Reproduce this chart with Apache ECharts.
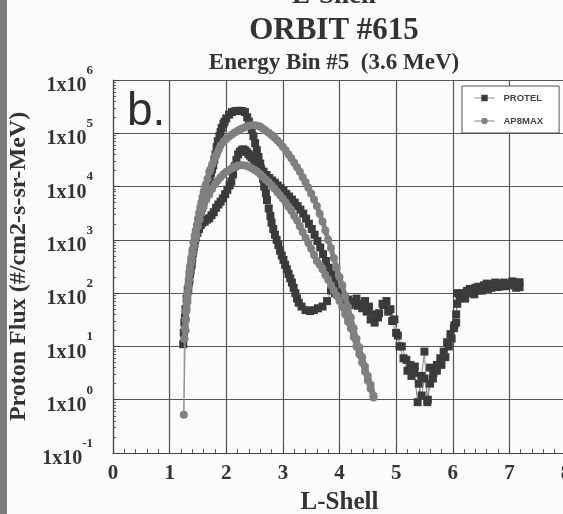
<!DOCTYPE html>
<html>
<head>
<meta charset="utf-8">
<script src="https://cdn.jsdelivr.net/npm/echarts@6/dist/echarts.min.js"></script>
<style>
html,body{margin:0;padding:0;background:#fcfcfc;}
#chart{width:563px;height:514px;}
</style>
</head>
<body>
<div id="chart"></div>
<script>
// ---- Data (L-Shell, proton flux) ----
var seriesNames = ['PROTEL', 'AP8MAX'];
var xTicks = [0, 1, 2, 3, 4, 5, 6, 7, 8];
var yTickExponents = [-1, 0, 1, 2, 3, 4, 5, 6];

// PROTEL, first pass (inbound, high L to low L)
var protelPass1 = [
 [7.18,160],[7.12,126],[7.05,166],[6.98,141],[6.9,158],[6.82,132],[6.75,158],[6.68,126],[6.6,151],[6.52,112],
 [6.45,132],[6.38,95],[6.3,120],[6.22,79],[6.15,89],[6.08,100],[6.06,40],[6.03,25],[5.98,14],[5.93,10],
 [5.87,6.3],[5.8,4.5],[5.72,3.5],[5.65,2.5],[5.6,4],[5.55,0.9],[5.5,8],[5.45,2.8],[5.38,0.9],[5.32,3.2],
 [5.25,4.5],[5.18,5.6],[5.1,10],[5.03,16],[4.97,32],[4.9,50],[4.83,71],[4.76,63],[4.68,35],[4.6,40],
 [4.52,56],[4.45,71],[4.38,63],[4.3,79],[4.22,66],[4.15,76],[4.07,71],[4.0,89],[3.92,100],[3.85,112],
 [3.78,71],[3.7,56],[3.62,52],[3.55,48],[3.48,46],[3.4,48],[3.33,56],[3.28,66],[3.25,79],[3.22,100],
 [3.19,126],[3.16,158],[3.13,190],[3.1,230],[3.07,280],[3.04,340],[3.01,420],[2.98,510],[2.95,630],[2.92,800],
 [2.89,1000],[2.86,1250],[2.83,1600],[2.8,2100],[2.78,2800],[2.75,3900],[2.72,5600],[2.7,7500],[2.67,10000],[2.65,14000],
 [2.62,20000],[2.6,27000],[2.57,36000],[2.54,48000],[2.51,65000],[2.48,88000],[2.45,115000],[2.42,140000],[2.4,166000],[2.37,200000],
 [2.33,250000],[2.28,262000],[2.22,265000],[2.16,262000],[2.1,250000],[2.05,224000],[2.0,190000],[1.97,165000],[1.95,151000],[1.92,126000],
 [1.9,105000],[1.88,89000],[1.85,71000],[1.83,55000],[1.81,40000],[1.79,32000],[1.77,25000],[1.75,21000],[1.73,18000],[1.71,15000],
 [1.69,12600],[1.66,10000],[1.63,7100],[1.6,5200],[1.57,4000],[1.54,2800],[1.51,2000],[1.48,1400],[1.45,1000],[1.43,750],
 [1.41,560],[1.39,355],[1.37,260],[1.35,180],[1.33,112],[1.31,75],[1.29,50],[1.27,35],[1.25,18]
];
// PROTEL, second pass (outbound, low L to high L)
var protelPass2 = [
 [1.24,11],[1.26,28],[1.28,50],[1.3,79],[1.32,115],[1.34,158],[1.36,230],[1.38,320],[1.4,450],[1.42,630],
 [1.44,850],[1.46,1100],[1.49,1350],[1.52,1600],[1.55,1900],[1.58,2100],[1.62,2200],[1.66,2400],[1.7,2550],[1.74,2900],
 [1.78,3300],[1.82,4000],[1.86,4600],[1.9,5200],[1.94,6000],[1.98,7200],[2.02,8700],[2.06,10500],[2.09,12500],[2.12,17000],
 [2.15,24000],[2.18,31600],[2.21,40000],[2.24,45000],[2.27,48000],[2.3,50000],[2.33,48000],[2.36,45000],[2.39,41000],[2.42,38000],
 [2.45,35000],[2.49,31000],[2.53,27500],[2.57,24500],[2.61,22000],[2.66,19000],[2.71,16500],[2.76,14500],[2.81,13000],[2.86,11800],
 [2.91,10500],[2.96,9300],[3.01,8300],[3.06,7300],[3.11,6500],[3.16,5700],[3.21,5000],[3.26,4300],[3.31,3700],[3.36,3100],
 [3.41,2500],[3.46,2000],[3.51,1600],[3.56,1250],[3.61,950],[3.66,720],[3.71,540],[3.76,400],[3.81,300],[3.86,224],
 [3.91,170],[3.96,126],[4.01,100],[4.06,85],[4.12,72],[4.18,60],[4.25,70],[4.32,58],[4.4,52],[4.48,45],
 [4.55,32],[4.62,28],[4.7,42],[4.78,60],[4.86,45],[4.93,30],[5.0,18],[5.06,10],[5.13,6],[5.2,3.5],
 [5.27,2.8],[5.33,4.2],[5.4,2],[5.45,1.2],[5.5,2.5],[5.56,1.0],[5.6,2],[5.66,3.2],[5.72,4.5],[5.78,6],
 [5.84,8],[5.9,12],[5.96,17],[6.02,22],[6.06,28],[6.08,63],[6.12,80],[6.18,100],[6.25,110],[6.32,100],
 [6.4,126],[6.47,112],[6.55,140],[6.62,120],[6.7,145],[6.78,130],[6.86,150],[6.94,135],[7.02,150],[7.1,140],[7.18,130]
];
var protel = protelPass1.concat(protelPass2);

// AP8MAX model, first pass (upper curve)
var ap8Pass1 = [
 [4.6,1.2],[4.55,1.9],[4.5,2.8],[4.45,4.2],[4.4,6.3],[4.35,9.5],[4.3,14],[4.25,22],[4.2,35],[4.15,55],
 [4.1,89],[4.05,140],[4.0,200],[3.95,300],[3.9,450],[3.85,700],[3.8,1000],[3.75,1500],[3.7,2200],[3.65,3100],
 [3.6,4300],[3.55,5700],[3.5,7400],[3.45,9500],[3.4,12000],[3.35,15000],[3.3,19000],[3.25,23000],[3.2,28000],[3.15,34000],
 [3.1,40000],[3.05,48000],[3.0,56000],[2.95,65000],[2.9,74000],[2.85,83000],[2.8,93000],[2.75,102000],[2.7,112000],[2.65,122000],
 [2.6,132000],[2.55,138000],[2.5,141000],[2.45,141000],[2.4,138000],[2.35,132000],[2.3,126000],[2.25,119000],[2.2,112000],[2.15,104000],
 [2.1,95000],[2.05,87000],[2.0,78000],[1.95,69000],[1.9,59000],[1.87,50000],[1.84,42000],[1.81,37000],[1.78,31000],[1.75,26000],
 [1.72,21000],[1.7,19000],[1.67,14000],[1.64,11000],[1.62,9300],[1.6,7900],[1.58,6300],[1.56,5000],[1.54,4000],[1.52,3200],
 [1.5,2500],[1.48,1900],[1.46,1500],[1.44,1200],[1.42,890],[1.4,630],[1.38,450],[1.36,320],[1.35,250],[1.34,180],
 [1.33,130],[1.32,95],[1.31,70],[1.3,50],[1.29,32],[1.28,20]
];
// AP8MAX low-L turnaround
var ap8Turn = [[1.28,20],[1.25,0.52],[1.26,14]];
// AP8MAX model, second pass (lower curve)
var ap8Pass2 = [
 [1.26,14],[1.27,22],[1.28,32],[1.29,45],[1.3,60],[1.31,80],[1.32,105],[1.33,140],[1.34,180],[1.35,230],
 [1.36,280],[1.37,330],[1.38,380],[1.39,430],[1.41,560],[1.43,750],[1.45,1000],[1.47,1250],[1.5,1800],[1.53,2400],
 [1.56,3200],[1.6,4200],[1.65,5700],[1.7,7100],[1.75,9000],[1.8,11000],[1.85,13000],[1.9,15000],[1.95,17000],[2.0,19000],
 [2.05,20500],[2.1,22000],[2.15,23500],[2.2,24500],[2.25,25000],[2.3,25000],[2.35,24500],[2.4,23500],[2.45,22000],[2.5,20500],
 [2.55,19000],[2.6,17000],[2.65,15200],[2.7,13500],[2.75,12000],[2.8,10500],[2.85,9200],[2.9,7900],[2.95,6900],[3.0,5900],
 [3.05,5000],[3.1,4200],[3.15,3500],[3.2,2800],[3.25,2300],[3.3,1800],[3.35,1400],[3.4,1100],[3.45,870],[3.5,680],
 [3.55,520],[3.6,400],[3.65,340],[3.7,280],[3.75,220],[3.8,178],[3.85,140],[3.9,112],[3.95,89],[4.0,71],
 [4.05,55],[4.1,40],[4.15,29],[4.2,22],[4.25,15],[4.3,10],[4.35,7.1],[4.4,5],[4.45,3.4],[4.5,2.3],[4.55,1.6],[4.6,1.1]
];

// ---- Chart ----
var SERIF = '"Liberation Serif","Times New Roman",serif';
var SANS = '"Liberation Sans",Arial,sans-serif';
var INK = '#333333';
var chart = echarts.init(document.getElementById('chart'), null, {renderer: 'canvas'});

var option = {
  backgroundColor: '#fcfcfc',
  animation: false,
  grid: {left: 113, top: 80, right: -3, bottom: 61, containLabel: false, outerBoundsMode: 'none'},
  graphic: [
    {type: 'rect', left: 0, top: 0, shape: {width: 7, height: 514}, style: {fill: '#7a7a7a'}, silent: true},
    {type: 'text', x: 334, y: -17, style: {text: 'L-Shell', font: 'bold 27px ' + SERIF, fill: INK, textAlign: 'center', textVerticalAlign: 'top'}},
    {type: 'text', x: 334, y: 15, style: {text: 'ORBIT #615', font: 'bold 31px ' + SERIF, fill: INK, textAlign: 'center', textVerticalAlign: 'top'}},
    {type: 'text', x: 334, y: 52, style: {text: 'Energy Bin #5  (3.6 MeV)', font: 'bold 23px ' + SERIF, fill: INK, textAlign: 'center', textVerticalAlign: 'top'}},
    {type: 'text', x: 127, y: 89, z: 10, style: {text: 'b.', font: '46px ' + SANS, fill: '#2e2e2e', textAlign: 'left', textVerticalAlign: 'top'}}
  ],
  legend: {
    data: seriesNames,
    orient: 'vertical',
    left: 462, top: 86,
    backgroundColor: '#ffffff',
    borderColor: '#555555', borderWidth: 1, borderRadius: 0,
    padding: [7, 16, 7, 12],
    itemGap: 13,
    itemWidth: 20, itemHeight: 8,
    lineStyle: {width: 1},
    textStyle: {fontFamily: SANS, fontSize: 9.5, fontWeight: 'bold', color: '#444', padding: [0, 0, 0, 4]}
  },
  xAxis: {
    type: 'value', min: 0, max: 8, interval: 1,
    name: 'L-Shell', nameLocation: 'middle', nameGap: 37,
    nameTextStyle: {fontFamily: SERIF, fontWeight: 'bold', fontSize: 25, color: INK},
    axisLine: {show: true, lineStyle: {color: '#444', width: 1.2}},
    axisTick: {show: true, inside: true, length: 6, lineStyle: {color: '#444'}},
    minorTick: {show: true, splitNumber: 5, length: 4, lineStyle: {color: '#555'}},
    splitLine: {show: true, lineStyle: {color: '#555', width: 1.2}},
    axisLabel: {fontFamily: SERIF, fontWeight: 'bold', fontSize: 21, color: INK, margin: 10,
      formatter: function (v) { return xTicks.indexOf(v) >= 0 ? String(v) : ''; }}
  },
  yAxis: {
    type: 'log', logBase: 10, min: 0.1, max: 1000000,
    name: 'Proton Flux (#/cm2-s-sr-MeV)', nameLocation: 'middle', nameGap: 76, nameRotate: 90,
    nameTextStyle: {fontFamily: SERIF, fontWeight: 'bold', fontSize: 24, color: INK},
    axisLine: {show: true, lineStyle: {color: '#444', width: 1.2}},
    axisTick: {show: true, inside: true, length: 6, lineStyle: {color: '#444'}},
    minorTick: {show: true, splitNumber: 9, length: 3, lineStyle: {color: '#555'}},
    splitLine: {show: true, lineStyle: {color: '#555', width: 1.2}},
    axisLabel: {
      margin: 20,
      formatter: function (v) {
        var e = Math.round(Math.log(v) / Math.LN10);
        if (yTickExponents.indexOf(e) < 0) return '';
        return '{b|1x10}{e|' + e + '}';
      },
      rich: {
        b: {fontFamily: SERIF, fontWeight: 'bold', fontSize: 20, color: INK, padding: [12, 0, 0, 0]},
        e: {fontFamily: SERIF, fontWeight: 'bold', fontSize: 13, color: INK, verticalAlign: 'top'}
      }
    }
  },
  series: [
    {
      name: 'PROTEL', type: 'line', data: protel,
      symbol: 'rect', symbolSize: 8, showSymbol: true, showAllSymbol: true,
      itemStyle: {color: '#3b3b3b'},
      lineStyle: {color: '#8a8a8a', width: 1},
      z: 3
    },
    {
      name: 'AP8MAX', type: 'line', data: ap8Pass1,
      symbol: 'circle', symbolSize: 8, showSymbol: true, showAllSymbol: true,
      itemStyle: {color: '#808080'},
      lineStyle: {color: '#808080', width: 5},
      z: 4
    },
    {
      name: 'AP8MAX', type: 'line', data: ap8Turn,
      symbol: 'circle', symbolSize: 8, showSymbol: true, showAllSymbol: true,
      itemStyle: {color: '#808080'},
      lineStyle: {color: '#909090', width: 1},
      z: 4
    },
    {
      name: 'AP8MAX', type: 'line', data: ap8Pass2,
      symbol: 'circle', symbolSize: 8, showSymbol: true, showAllSymbol: true,
      itemStyle: {color: '#808080'},
      lineStyle: {color: '#808080', width: 5},
      z: 4
    }
  ]
};
chart.setOption(option);
</script>
</body>
</html>
